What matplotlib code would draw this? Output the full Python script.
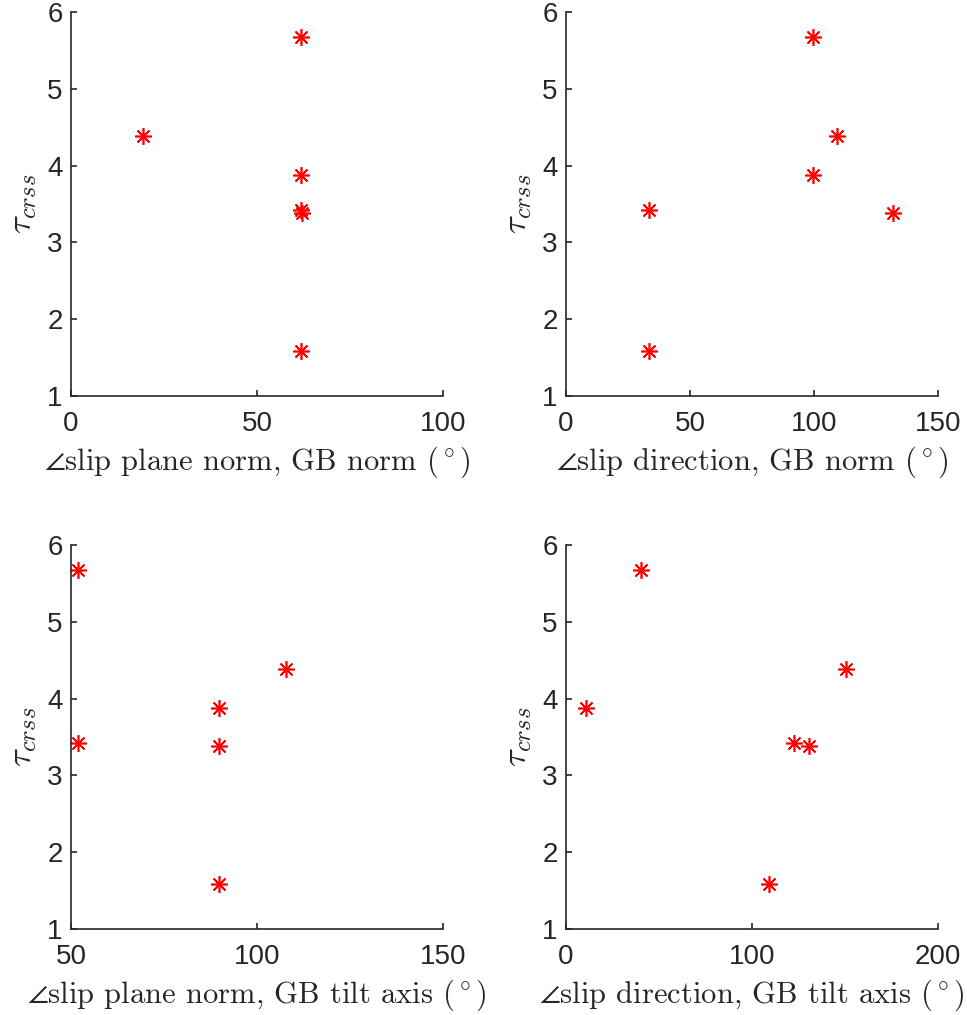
import matplotlib
matplotlib.use("Agg")
import matplotlib.pyplot as plt

tau_crss = [5.68, 4.38, 3.88, 3.42, 3.38, 1.58]
ang_plane_gbnorm = [61.8, 19.4, 61.8, 61.8, 62.0, 61.8]
ang_dir_gbnorm = [99.4, 109.2, 99.4, 33.5, 131.8, 33.5]
ang_plane_tilt = [51.9, 107.8, 89.8, 51.9, 89.8, 89.8]
ang_dir_tilt = [40.2, 150.7, 10.8, 122.7, 130.8, 108.9]

xlabels = [r'$\angle$slip plane norm, GB norm $(^\circ)$',
           r'$\angle$slip direction, GB norm $(^\circ)$',
           r'$\angle$slip plane norm, GB tilt axis $(^\circ)$',
           r'$\angle$slip direction, GB tilt axis $(^\circ)$']
xlims = [(0, 100), (0, 150), (50, 150), (0, 200)]
xticks = [[0, 50, 100], [0, 50, 100, 150], [50, 100, 150], [0, 100, 200]]
yticks = [1, 2, 3, 4, 5, 6]
ylabel = r'$\tau_{crss}$'

plt.rcParams['mathtext.fontset'] = 'cm'
plt.rcParams['font.family'] = ['Liberation Sans', 'DejaVu Sans']

fig = plt.figure(figsize=(9.67, 10.15), dpi=100)
W, H = 967, 1015
boxes = [(71, 12), (566, 12), (71, 545), (566, 545)]
aw, ah = 372, 384
xs = [ang_plane_gbnorm, ang_dir_gbnorm, ang_plane_tilt, ang_dir_tilt]
dark = '#262626'
for i, (l, t) in enumerate(boxes):
    ax = fig.add_axes([l / W, 1 - (t + ah) / H, aw / W, ah / H])
    ax.plot(xs[i], tau_crss, linestyle='none', marker=(8, 2, 0), markersize=12,
            markeredgewidth=1.2, color='#ff0000', clip_on=False)
    ax.set_xlim(*xlims[i])
    ax.set_ylim(1, 6)
    ax.set_xticks(xticks[i])
    ax.set_yticks(yticks)
    for s in ['top', 'right']:
        ax.spines[s].set_visible(False)
    for s in ['left', 'bottom']:
        ax.spines[s].set_color(dark)
        ax.spines[s].set_linewidth(1.2)
    ax.tick_params(direction='in', length=4, width=1.2, colors=dark,
                   labelsize=20)
    ax.tick_params(axis='x', pad=11)
    ax.tick_params(axis='y', pad=6)
    ax.set_xlabel(xlabels[i], fontsize=22, color=dark, labelpad=5,
                  fontfamily='cmr10')
    ax.set_ylabel(ylabel, fontsize=25, color=dark, labelpad=6)

fig.savefig('out.png', dpi=100)
